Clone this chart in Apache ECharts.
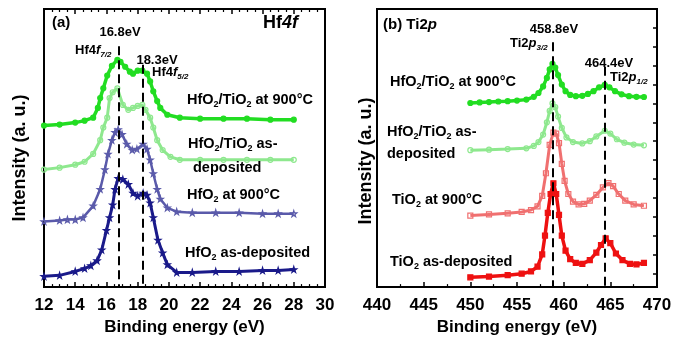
<!DOCTYPE html>
<html><head><meta charset="utf-8">
<script src="https://cdn.jsdelivr.net/npm/echarts@6/dist/echarts.min.js"></script>
<style>html,body{margin:0;padding:0;background:#fff}#c{width:682px;height:341px}</style>
</head><body><div id="c"></div>
<script>
// ---------- Panel (a): Hf4f  (x: binding energy eV, y: intensity a.u. with offsets)
const hfXTicks = [12, 30, 2];
const hfAsDep = [[12,11],[13,12],[14,16],[14.6,19],[15,22],[15.4,27],[15.7,38],[16,58],[16.2,71],[16.4,84],[16.55,100],[16.75,111],[17.05,110],[17.4,105],[17.7,96],[18,93],[18.35,96],[18.6,94],[18.8,86],[19,71],[19.3,48],[19.6,35],[19.9,23],[20.5,15],[21.5,15],[23,16],[24.5,16],[26,17],[27,17],[28,18]];
const hf900 = [[12,67],[13,68],[13.5,69],[14,69],[14.5,71],[15.15,83],[15.6,100],[15.9,120],[16.1,136],[16.35,150],[16.55,158],[16.75,161],[17,156],[17.3,146],[17.65,140],[17.95,141],[18.35,146],[18.6,141],[18.8,130],[19,116],[19.25,100],[19.45,90],[19.9,81],[20.5,77],[21.5,76],[23,76],[24.5,76],[26,75],[27,75],[28,75]];
const hfTiAsDep = [[12,120],[13,122],[14,125],[14.6,128],[15.15,136],[15.6,150],[15.8,163],[16.05,173],[16.2,193],[16.4,199],[16.7,203],[17.05,186],[17.4,181],[17.7,183],[18,185],[18.3,186],[18.5,181],[18.8,173],[19,163],[19.25,150],[19.6,140],[20.1,133],[20.7,130],[22,130],[23.5,130],[25,130],[26.5,130],[28,130]];
const hfTi900 = [[12,165],[13,166],[14,168],[14.6,170],[15.15,173],[15.45,183],[15.6,193],[15.8,203],[16.05,216],[16.35,226],[16.7,232],[16.9,230],[17.2,225],[17.5,220],[17.7,218],[18,221],[18.3,221],[18.6,218],[18.8,210],[19,200],[19.25,190],[19.45,183],[19.9,176],[20.7,173],[22,172],[23.5,172],[25,172],[26.5,171],[28,171]];
const hfPeaks = [16.8, 18.3];
const hfPeakTop = [246, 227];

// ---------- Panel (b): Ti2p
const tiXTicks = [440, 470, 5];
const tiAsDep = [[450,-0.21],[452,-0.17],[454,-0.1],[455.5,-0.02],[456.5,0.1],[457.2,0.35],[457.7,1.0],[458.0,2.0],[458.3,3.2],[458.6,4.2],[458.9,4.77],[459.2,4.2],[459.5,3.1],[459.8,2.0],[460.2,1.2],[460.7,0.75],[461.3,0.55],[462,0.5],[462.8,0.7],[463.5,1.1],[464,1.5],[464.5,1.85],[465,1.6],[465.6,1.05],[466.3,0.7],[467.1,0.5],[467.8,0.47],[468.6,0.55]];
const ti900 = [[450,3.06],[452,3.12],[454,3.18],[455.5,3.25],[456.5,3.35],[457.2,3.55],[457.7,4.1],[458.1,5.3],[458.5,6.8],[458.9,7.45],[459.2,7.4],[459.5,6.9],[459.8,5.8],[460.1,4.9],[460.5,4.2],[461,3.8],[461.6,3.65],[462.2,3.68],[462.8,3.85],[463.5,4.15],[464.2,4.55],[464.8,4.78],[465.3,4.62],[465.9,4.2],[466.6,3.85],[467.5,3.65],[468.6,3.58]];
const tiHfAsDep = [[450,6.52],[452,6.55],[454,6.58],[456,6.62],[456.8,6.75],[457.3,6.95],[457.8,7.35],[458.2,8.0],[458.5,8.6],[458.8,9.0],[459.1,8.8],[459.4,8.3],[459.8,7.7],[460.3,7.2],[461,6.95],[462,6.88],[462.8,7.0],[463.5,7.25],[464.4,7.55],[465,7.4],[465.7,7.1],[466.5,6.92],[467.5,6.82],[468.6,6.78]];
const tiHf900 = [[450,9.02],[451,9.05],[452,9.07],[453,9.1],[454,9.12],[455,9.15],[456,9.2],[456.8,9.35],[457.3,9.55],[457.8,9.9],[458.2,10.35],[458.5,10.8],[458.8,11.1],[459.1,10.9],[459.4,10.5],[459.8,10.0],[460.2,9.65],[460.7,9.45],[461.3,9.38],[462.0,9.4],[462.6,9.5],[463.2,9.65],[463.8,9.85],[464.4,9.98],[464.9,9.85],[465.5,9.65],[466.2,9.48],[467,9.38],[467.8,9.35],[468.6,9.34]];
const tiPeaks = [458.8, 464.4];
const tiPeakTop = [12.24, 10.94];
const tiYRange = [-0.73, 14.0];

const FONT = '"Liberation Sans", Arial, sans-serif';
const STAR = 'path://M50,0 L61,35 L98,35 L68,57 L79,91 L50,70 L21,91 L32,57 L2,35 L39,35 Z';

function rich(size) {
  return {
    n: {fontSize: size, fontWeight: 'bold', fontFamily: FONT, lineHeight: 18, verticalAlign: 'middle', color: '#000'},
    i: {fontSize: size, fontWeight: 'bold', fontStyle: 'italic', fontFamily: FONT, lineHeight: 18, verticalAlign: 'middle', color: '#000'},
    s: {fontSize: Math.round(size * 0.62), fontWeight: 'bold', fontFamily: FONT, lineHeight: 18, verticalAlign: 'bottom', color: '#000'},
    si: {fontSize: Math.round(size * 0.62), fontWeight: 'bold', fontStyle: 'italic', fontFamily: FONT, lineHeight: 18, verticalAlign: 'bottom', color: '#000'}
  };
}
function T(x, y, text, size, align, rot) {
  if (text.indexOf('{') < 0) text = '{n|' + text + '}';
  return {type: 'text', x: x, y: y, z: 100, rotation: rot || 0,
    style: {text: text, rich: rich(size), fontSize: size, fontWeight: 'bold', fontFamily: FONT, fill: '#000',
      align: align || 'left', verticalAlign: 'middle'}};
}

function dashLines(peaks, tops, bottom) {
  return {symbol: 'none', silent: true, z: 50, label: {show: false},
    lineStyle: {type: [9, 5], color: '#000', width: 2},
    data: peaks.map((p, k) => [{coord: [p, tops[k]]}, {coord: [p, bottom]}])};
}

function xAxisBase(t, gi, labels) {
  return {type: 'value', gridIndex: gi, min: t[0], max: t[1], interval: t[2],
    axisLine: {show: false, onZero: false}, splitLine: {show: false},
    axisTick: {show: true, inside: true, length: 5, lineStyle: {color: '#000', width: 1.5}},
    axisLabel: {show: labels, fontSize: 17, fontWeight: 'bold', color: '#000', fontFamily: FONT, margin: 10},
    name: labels ? 'Binding energy (eV)' : '', nameLocation: 'middle', nameGap: 26,
    nameTextStyle: {fontSize: 17, fontWeight: 'bold', color: '#000', fontFamily: FONT}};
}

const xA0 = xAxisBase(hfXTicks, 0, true);
xA0.minorTick = {show: true, splitNumber: 4, length: 3, lineStyle: {color: '#000', width: 1.2}};
const xA0top = xAxisBase(hfXTicks, 0, false);
xA0top.position = 'top';
xA0top.minorTick = {show: true, splitNumber: 4, length: 3, lineStyle: {color: '#000', width: 1.2}};
const xA1 = xAxisBase(tiXTicks, 1, true);
xA1.minorTick = {show: true, splitNumber: 2, length: 3, lineStyle: {color: '#000', width: 1.2}};

function line(data, xi, yi, color, symbol, size, width, fill, extra) {
  const s = {type: 'line', xAxisIndex: xi, yAxisIndex: yi, data: data, symbol: symbol, symbolSize: size,
    showSymbol: true, animation: false, smooth: false,
    lineStyle: {color: color, width: width},
    itemStyle: {color: fill, borderColor: color, borderWidth: 1.2}};
  return Object.assign(s, extra || {});
}
const CLEAR = 'rgba(255,255,255,0)';

const option = {
  animation: false,
  backgroundColor: '#fff',
  grid: [
    {left: 44, top: 9, width: 281, height: 284, show: true, borderColor: '#000', borderWidth: 2},
    {left: 377, top: 9, width: 280, height: 284, show: true, borderColor: '#000', borderWidth: 2}
  ],
  xAxis: [xA0, xA0top, xA1],
  yAxis: [
    {type: 'value', gridIndex: 0, min: 0, max: 284, axisLine: {show: false, onZero: false}, axisTick: {show: false},
     axisLabel: {show: false}, splitLine: {show: false}},
    {type: 'value', gridIndex: 1, min: tiYRange[0], max: tiYRange[1], splitNumber: 14, position: 'right',
     axisLine: {show: false, onZero: false}, axisTick: {show: true, inside: true, length: 4, lineStyle: {color: '#000', width: 1.5}},
     axisLabel: {show: false}, splitLine: {show: false}}
  ],
  series: [
    line(hfAsDep, 0, 0, '#1a1a8a', STAR, 6, 3, '#1a1a8a', {markLine: dashLines(hfPeaks, hfPeakTop, 0)}),
    line(hf900, 0, 0, '#5a5aaa', STAR, 6, 2.5, CLEAR),
    line(hfTiAsDep, 0, 0, '#8ee88e', 'circle', 5, 3, CLEAR),
    line(hfTi900, 0, 0, '#22dd22', 'circle', 5, 3.5, '#22dd22'),
    line(tiAsDep, 2, 1, '#ee1111', 'rect', 5, 3.5, '#ee1111', {markLine: dashLines(tiPeaks, tiPeakTop, tiYRange[0])}),
    line(ti900, 2, 1, '#f07070', 'rect', 5, 3, CLEAR),
    line(tiHfAsDep, 2, 1, '#8ee88e', 'circle', 5, 3, CLEAR),
    line(tiHf900, 2, 1, '#22dd22', 'circle', 5, 3.5, '#22dd22')
  ],
  graphic: [
    T(20, 158, 'Intensity (a. u.)', 18, 'center', Math.PI / 2),
    T(366, 161, 'Intensity (a. u.)', 18, 'center', Math.PI / 2),
    T(52, 23, '(a)', 15),
    T(263, 23, '{n|Hf}{i|4f}', 18),
    T(120, 32, '16.8eV', 13, 'center'),
    T(75, 50, '{n|Hf4}{i|f}{si|7/2}', 13),
    T(157, 60, '18.3eV', 13, 'center'),
    T(152, 72, '{n|Hf4}{i|f}{si|5/2}', 13),
    T(187, 100, '{n|HfO}{s|2}{n|/TiO}{s|2}{n| at 900°C}', 14.5),
    T(188, 144, '{n|HfO}{s|2}{n|/TiO}{s|2}{n| as-}', 14.5),
    T(193, 168, 'deposited', 14.5),
    T(187, 195, '{n|HfO}{s|2}{n| at 900°C}', 14.5),
    T(185, 253, '{n|HfO}{s|2}{n| as-deposited}', 14.5),
    T(383, 25, '{n|(b) Ti2}{i|p}', 15),
    T(554, 29, '458.8eV', 13, 'center'),
    T(510, 43, '{n|Ti2}{i|p}{si|3/2}', 13),
    T(609, 63, '464.4eV', 13, 'center'),
    T(610, 77, '{n|Ti2}{i|p}{si|1/2}', 13),
    T(390, 82, '{n|HfO}{s|2}{n|/TiO}{s|2}{n| at 900°C}', 14.5),
    T(387, 132, '{n|HfO}{s|2}{n|/TiO}{s|2}{n| as-}', 14.5),
    T(387, 154, 'deposited', 14.5),
    T(392, 200, '{n|TiO}{s|2}{n| at 900°C}', 14.5),
    T(390, 262, '{n|TiO}{s|2}{n| as-deposited}', 14.5)
  ]
};
const chart = echarts.init(document.getElementById('c'), null, {renderer: 'canvas'});
chart.setOption(option);
</script></body></html>
